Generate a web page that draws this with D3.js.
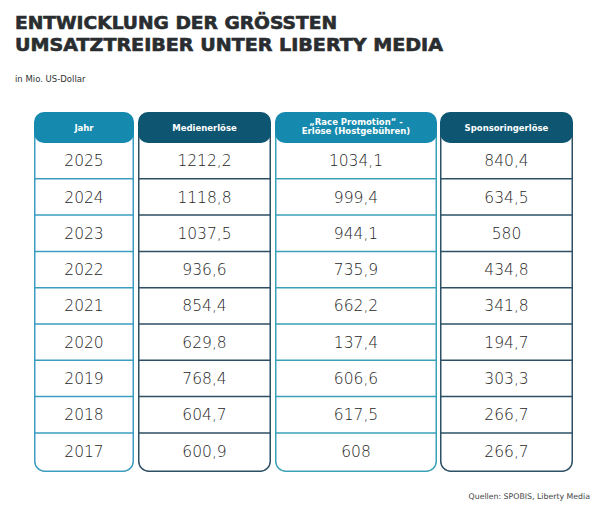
<!DOCTYPE html>
<html>
<head>
<meta charset="utf-8">
<style>
  body { margin: 0px; background: #fff; }
</style>
</head>
<body>
<script src="https://cdn.jsdelivr.net/npm/d3@7/dist/d3.min.js"></script>
<script>
// *** DATA ***
var years = ["2025", "2024", "2023", "2022", "2021", "2020", "2019", "2018", "2017"];
var medien = ["1212,2", "1118,8", "1037,5", "936,6", "854,4", "629,8", "768,4", "604,7", "600,9"];
var race = ["1034,1", "999,4", "944,1", "735,9", "662,2", "137,4", "606,6", "617,5", "608"];
var sponsoring = ["840,4", "634,5", "580", "434,8", "341,8", "194,7", "303,3", "266,7", "266,7"];
var headers = [["Jahr"], ["Medienerlöse"], ["\u201ERace Promotion\u201C -", "Erlöse (Hostgebühren)"], ["Sponsoringerlöse"]];

var columns = [years, medien, race, sponsoring];

// column geometry (left, right) and colours
var colX = [[34, 134], [138, 271], [275, 437], [440, 573]];
var headFill = ["#168aae", "#0e5572", "#168aae", "#0e5572"];
var lineCol = ["#3b9dc0", "#2d4f63", "#3aa1b6", "#2d5064"];

var W = 605, H = 511;
var svg = d3.select("body").append("svg").attr("width", W).attr("height", H);

// *** TITLE ***
// heavy, wide title: fitted to the reference width
function titleLine(txt, baseY, len) {
  svg.append("text").attr("x", 15).attr("y", baseY)
    .attr("textLength", len).attr("lengthAdjust", "spacingAndGlyphs")
    .style("font-family", "'DejaVu Sans', sans-serif").style("font-weight", "bold")
    .style("font-size", "17px").style("fill", "#2a2d30")
    .style("stroke", "#2a2d30").style("stroke-width", 0.6)
    .text(txt);
}
titleLine("ENTWICKLUNG DER GRÖSSTEN", 29, 322);
titleLine("UMSATZTREIBER UNTER LIBERTY MEDIA", 50.5, 428);

svg.append("text").attr("x", 15).attr("y", 82)
  .style("font-family", "'DejaVu Sans', sans-serif").style("font-size", "8.5px")
  .style("fill", "#333").text("in Mio. US-Dollar");

svg.append("text").attr("x", 590).attr("y", 499).attr("text-anchor", "end")
  .style("font-family", "'DejaVu Sans', sans-serif").style("font-size", "7.8px")
  .style("fill", "#444").text("Quellen: SPOBIS, Liberty Media");

// *** TABLE ***
var tableTop = 112, headBottom = 143, tableBottom = 472;
var y = d3.scaleBand().domain(years).range([headBottom - 0.5, headBottom - 0.5 + 36.3 * years.length]);

columns.forEach(function(vals, ci) {
  var x0 = colX[ci][0], x1 = colX[ci][1];
  var g = svg.append("g");

  // column frame
  g.append("rect")
    .attr("x", x0 + 0.75).attr("y", tableTop + 10)
    .attr("width", x1 - x0 - 1.5).attr("height", tableBottom - tableTop - 10.75)
    .attr("rx", 10)
    .style("fill", "none").style("stroke", lineCol[ci]).style("stroke-width", 1.5);

  // row dividers
  g.selectAll("line").data(vals.slice(1)).enter().append("line")
    .attr("x1", x0).attr("x2", x1)
    .attr("y1", function(d, i) { return y(years[i + 1]); })
    .attr("y2", function(d, i) { return y(years[i + 1]); })
    .style("stroke", lineCol[ci]).style("stroke-width", 1.5);

  // header
  g.append("rect")
    .attr("x", x0).attr("y", tableTop)
    .attr("width", x1 - x0).attr("height", headBottom - tableTop)
    .attr("rx", 10)
    .style("fill", headFill[ci]);

  var hl = headers[ci];
  var cx = (x0 + x1) / 2;
  hl.forEach(function(t, li) {
    g.append("text").attr("x", cx)
      .attr("y", hl.length === 1 ? 130.5 : 124.5 + li * 9)
      .attr("text-anchor", "middle")
      .style("font-family", "'DejaVu Sans', sans-serif").style("font-weight", "bold")
      .style("font-size", "8.5px").style("fill", "#fff").text(t);
  });

  // cell values
  g.selectAll("text.val").data(vals).enter().append("text")
    .attr("class", "val")
    .attr("x", cx)
    .attr("y", function(d, i) { return y(years[i]) + y.bandwidth() / 2; })
    .attr("dy", "0.36em")
    .attr("text-anchor", "middle")
    .style("font-family", "'DejaVu Sans', sans-serif").style("font-weight", 300)
    .style("font-size", "15.5px").style("fill", "#262626")
    .text(function(d) { return d; });
});
</script>
</body>
</html>
